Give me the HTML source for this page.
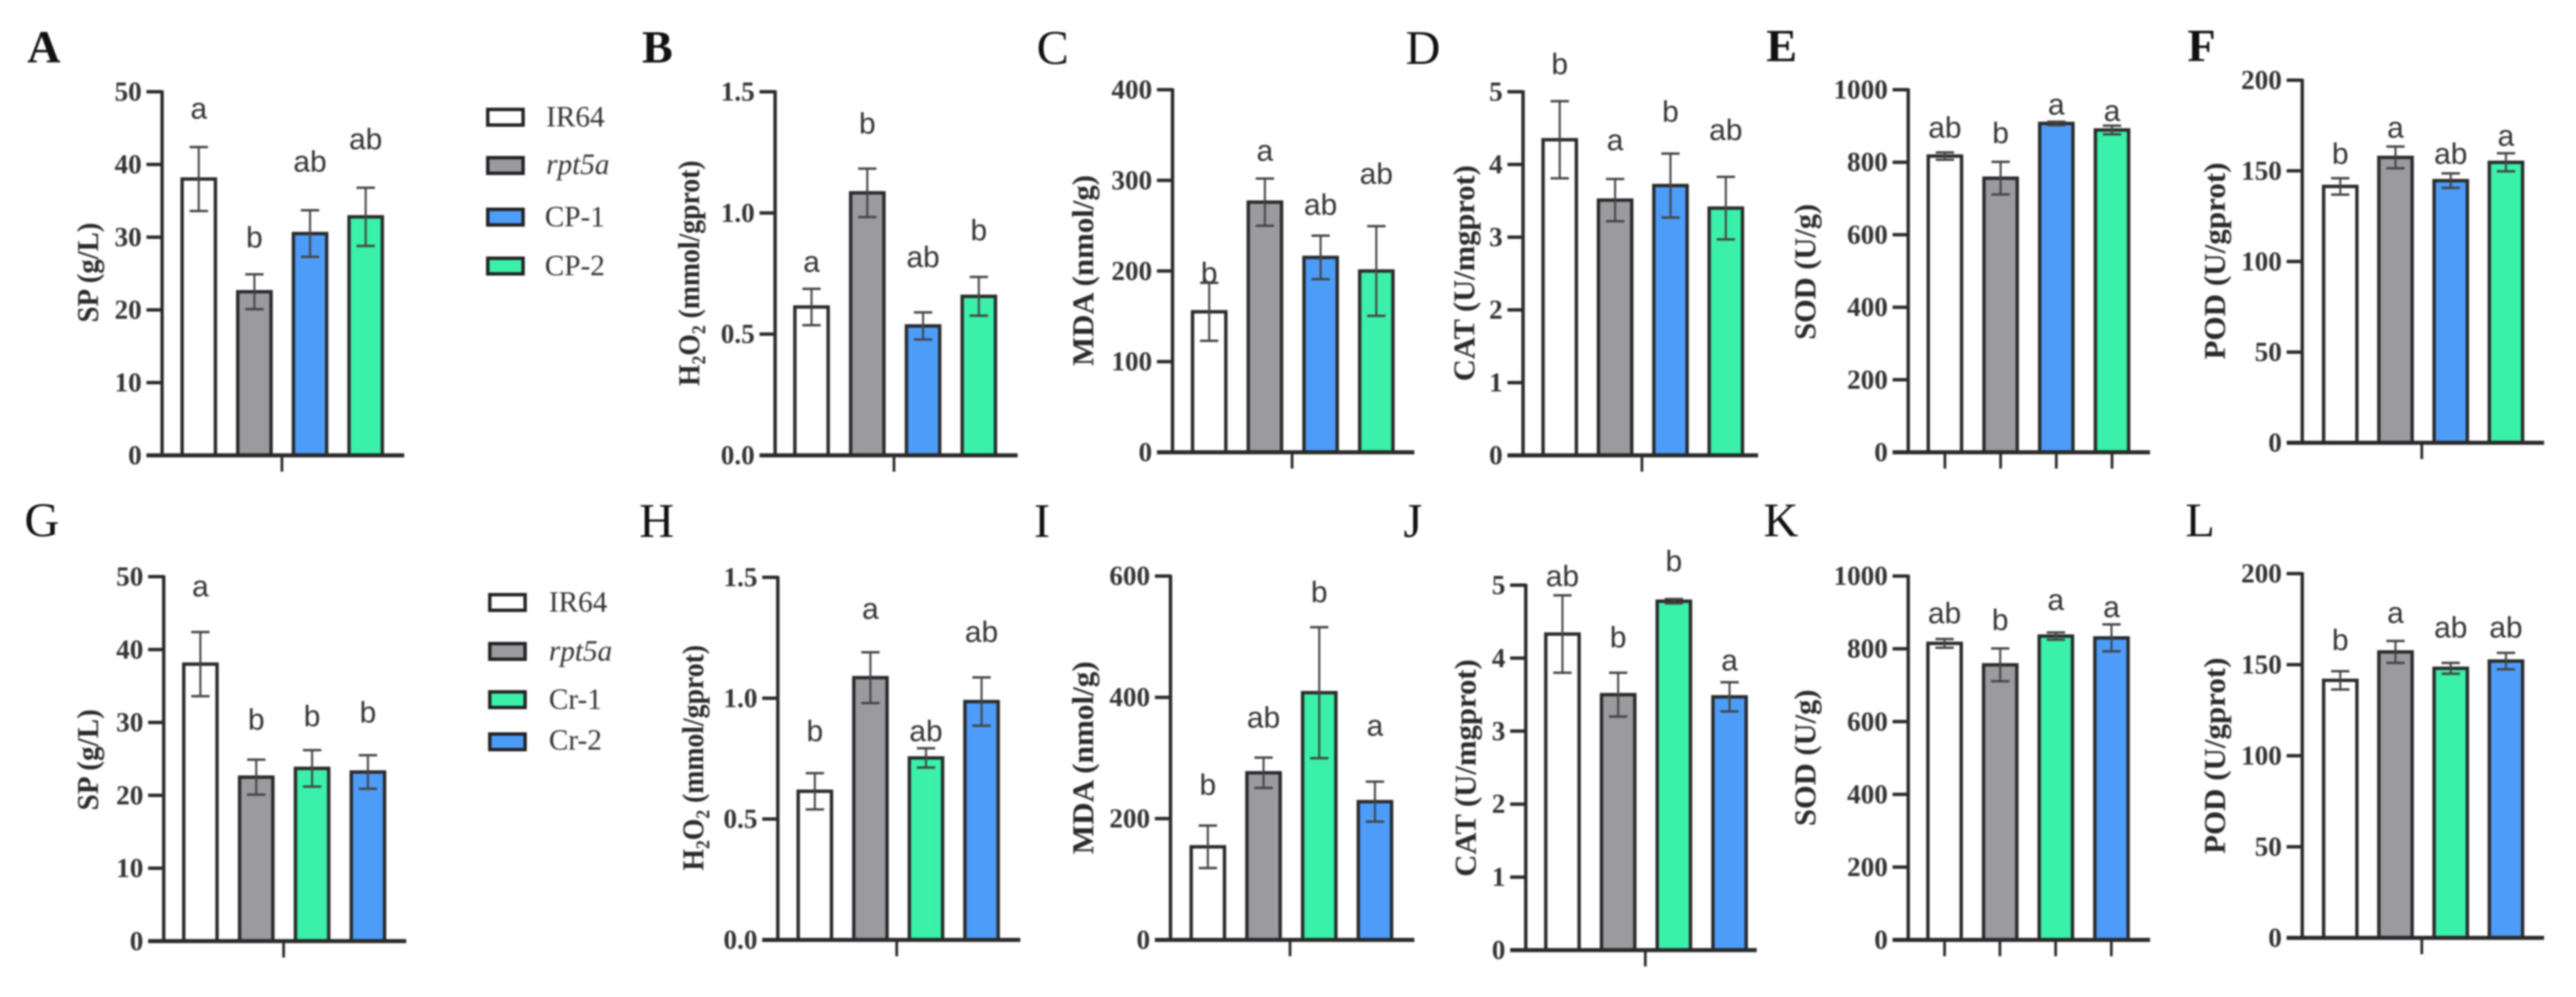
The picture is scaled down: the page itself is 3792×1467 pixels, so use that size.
<!DOCTYPE html>
<html lang="en">
<head>
<meta charset="utf-8">
<title>Physiological indices bar charts</title>
<style>
html,body{margin:0;padding:0;background:#fff;width:3792px;height:1467px;overflow:hidden}
svg{display:block;filter:blur(1.3px)}
.panel-letter{font-family:"Liberation Serif",serif;font-weight:normal;font-size:71px;fill:#111}
.panel-letter-heavy{font-family:"Liberation Serif",serif;font-weight:bold;font-size:68px;fill:#111}
.tick-label{font-family:"Liberation Serif",serif;font-weight:bold;font-size:40px;fill:#333;text-anchor:end}
.y-title{font-family:"Liberation Serif",serif;font-weight:bold;font-size:44px;fill:#2a2a2a;text-anchor:middle}
.sig-letter{font-family:"Liberation Sans",sans-serif;font-size:44px;fill:#333;text-anchor:middle}
.legend-text{font-family:"Liberation Serif",serif;font-size:43px;fill:#333}
</style>
</head>
<body>
<svg id="figure" xmlns="http://www.w3.org/2000/svg" width="3792" height="1467" viewBox="0 0 3792 1467">
  <g>
    <g><rect x="718" y="161" width="52" height="23" fill="#fff" stroke="#222" stroke-width="5"/><text class="legend-text" x="804" y="186">IR64</text></g>
    <g><rect x="718" y="232" width="52" height="23" fill="#9a9a9f" stroke="#222" stroke-width="5"/><text class="legend-text" x="804" y="256" font-style="italic">rpt5a</text></g>
    <g><rect x="718" y="308" width="52" height="23" fill="#4d9cf8" stroke="#222" stroke-width="5"/><text class="legend-text" x="802" y="333">CP-1</text></g>
    <g><rect x="718" y="380" width="52" height="23" fill="#3bf0a8" stroke="#222" stroke-width="5"/><text class="legend-text" x="802" y="405">CP-2</text></g>
  </g>
  <g>
    <g><rect x="721" y="875" width="52" height="23" fill="#fff" stroke="#222" stroke-width="5"/><text class="legend-text" x="808" y="900">IR64</text></g>
    <g><rect x="721" y="947" width="52" height="23" fill="#9a9a9f" stroke="#222" stroke-width="5"/><text class="legend-text" x="808" y="972" font-style="italic">rpt5a</text></g>
    <g><rect x="721" y="1018" width="52" height="23" fill="#3bf0a8" stroke="#222" stroke-width="5"/><text class="legend-text" x="808" y="1043">Cr-1</text></g>
    <g><rect x="721" y="1080" width="52" height="23" fill="#4d9cf8" stroke="#222" stroke-width="5"/><text class="legend-text" x="808" y="1103">Cr-2</text></g>
  </g>
</svg>
<script>
const categoriesTop = ["IR64", "rpt5a", "CP-1", "CP-2"];
const categoriesBottom = ["IR64", "rpt5a", "Cr-1", "Cr-2"];

const panelATicks = ["0", "10", "20", "30", "40", "50"];
const panelAValues = [38, 22.5, 30.5, 32.8];
const panelAErrors = [4.4, 2.4, 3.2, 4];
const panelALetters = ["a", "b", "ab", "ab"];
const panelALetterLevels = [46.3, 28.6, 39, 42.1];

const panelBTicks = ["0.0", "0.5", "1.0", "1.5"];
const panelBValues = [0.612, 1.083, 0.534, 0.656];
const panelBErrors = [0.075, 0.1, 0.056, 0.08];
const panelBLetters = ["a", "b", "ab", "b"];
const panelBLetterLevels = [0.757, 1.327, 0.776, 0.888];

const panelCTicks = ["0", "100", "200", "300", "400"];
const panelCValues = [155, 276, 215, 200];
const panelCErrors = [32, 26, 24, 49.5];
const panelCLetters = ["b", "a", "ab", "ab"];
const panelCLetterLevels = [186.7, 321.8, 262, 296];

const panelDTicks = ["0", "1", "2", "3", "4", "5"];
const panelDValues = [4.34, 3.51, 3.71, 3.4];
const panelDErrors = [0.53, 0.29, 0.44, 0.43];
const panelDLetters = ["b", "a", "b", "ab"];
const panelDLetterLevels = [5.245, 4.196, 4.589, 4.336];

const panelETicks = ["0", "200", "400", "600", "800", "1000"];
const panelEValues = [817, 756, 907, 889];
const panelEErrors = [10, 45, 5, 12];
const panelELetters = ["ab", "b", "a", "a"];
const panelELetterLevels = [868, 853, 932, 914];

const panelFTicks = ["0", "50", "100", "150", "200"];
const panelFValues = [141.4, 157.4, 144.6, 154.7];
const panelFErrors = [4.5, 6, 4, 5];
const panelFLetters = ["b", "a", "ab", "a"];
const panelFLetterLevels = [153.9, 168.4, 153.9, 163.9];

const panelGTicks = ["0", "10", "20", "30", "40", "50"];
const panelGValues = [38, 22.5, 23.7, 23.2];
const panelGErrors = [4.4, 2.4, 2.5, 2.3];
const panelGLetters = ["a", "b", "b", "b"];
const panelGLetterLevels = [47.3, 29, 29.5, 30];

const panelHTicks = ["0.0", "0.5", "1.0", "1.5"];
const panelHValues = [0.615, 1.085, 0.753, 0.986];
const panelHErrors = [0.075, 0.105, 0.04, 0.1];
const panelHLetters = ["b", "a", "ab", "ab"];
const panelHLetterLevels = [0.823, 1.328, 0.823, 1.233];

const panelITicks = ["0", "200", "400", "600"];
const panelIValues = [153.5, 275.6, 407.7, 228];
const panelIErrors = [35, 25, 108, 33];
const panelILetters = ["b", "ab", "b", "a"];
const panelILetterLevels = [239, 350, 557, 337];

const panelJTicks = ["0", "1", "2", "3", "4", "5"];
const panelJValues = [4.33, 3.5, 4.78, 3.47];
const panelJErrors = [0.53, 0.3, 0.03, 0.2];
const panelJLetters = ["ab", "b", "b", "a"];
const panelJLetterLevels = [4.987, 4.146, 5.192, 3.833];

const panelKTicks = ["0", "200", "400", "600", "800", "1000"];
const panelKValues = [815, 756, 835, 830];
const panelKErrors = [12, 45, 10, 37];
const panelKLetters = ["ab", "b", "a", "a"];
const panelKLetterLevels = [870, 852, 907, 887];

const panelLTicks = ["0", "50", "100", "150", "200"];
const panelLValues = [141.4, 157, 148, 152];
const panelLErrors = [5, 6, 3, 4.5];
const panelLLetters = ["b", "a", "ab", "ab"];
const panelLLetterLevels = [158, 173, 165, 165];

const colorWhite = "#ffffff", colorGray = "#9a9a9f", colorBlue = "#4d9cf8", colorGreen = "#3bf0a8";
const topColors = [colorWhite, colorGray, colorBlue, colorGreen];
const bottomColors = [colorWhite, colorGray, colorGreen, colorBlue];

const SVG_NS = "http://www.w3.org/2000/svg";
const figure = document.getElementById("figure");

function make(tag, attrs, parent, text) {
  const node = document.createElementNS(SVG_NS, tag);
  for (const key in attrs) node.setAttribute(key, attrs[key]);
  if (text !== undefined) node.textContent = text;
  parent.appendChild(node);
  return node;
}

function drawPanel(p) {
  const group = make("g", {}, figure);
  
  

  const maxValue = parseFloat(p.ticks[p.ticks.length - 1]);
  const yScale = function (v) { return p.base - (v / maxValue) * (p.base - p.top); };
  const xScale = function (i) { return p.firstBar + i * p.barStep; };
  const barWidth = 49;
  const ink = "#2a2a2a";

  const letterClass = p.heavy ? "panel-letter-heavy" : "panel-letter";
  const letterNode = make("text", { class: letterClass, x: p.letterX, y: p.letterY }, group, p.letter);
  
  

  p.values.forEach(function (v, i) {
    const bar = make("rect", {
      x: xScale(i) - barWidth / 2, y: yScale(v), width: barWidth, height: p.base - yScale(v),
      fill: p.colors[i], stroke: "#2a2a2a", "stroke-width": 5
    }, group);
    
    
  });

  const yAxis = make("line", { x1: p.axisX, x2: p.axisX, y1: p.top - 2, y2: p.base, stroke: ink, "stroke-width": 5 }, group);
  
  

  const xAxis = make("line", { x1: p.axisX - 23, x2: p.axisEnd, y1: p.base, y2: p.base, stroke: ink, "stroke-width": 6 }, group);
  
  

  p.ticks.forEach(function (label) {
    const y = yScale(parseFloat(label));
    const tick = make("line", { x1: p.axisX - 23, x2: p.axisX, y1: y, y2: y, stroke: ink, "stroke-width": 5 }, group);
    
    
    const tickText = make("text", { class: "tick-label", x: p.axisX - 30, y: y + 13 }, group, label);
    
    
  });

  p.xTicks.forEach(function (x) {
    const xTick = make("line", { x1: x, x2: x, y1: p.base, y2: p.base + 24, stroke: ink, "stroke-width": 4 }, group);
    
    
  });

  p.values.forEach(function (v, i) {
    const cx = xScale(i), hi = yScale(v + p.errors[i]), lo = yScale(v - p.errors[i]);
    const stem = make("line", { x1: cx, x2: cx, y1: hi, y2: lo, stroke: "#444", "stroke-width": 3 }, group);
    
    
    const capTop = make("line", { x1: cx - 13.5, x2: cx + 13.5, y1: hi, y2: hi, stroke: "#444", "stroke-width": 3.5 }, group);
    
    
    const capLow = make("line", { x1: cx - 13.5, x2: cx + 13.5, y1: lo, y2: lo, stroke: "#444", "stroke-width": 3.5 }, group);
    
    
    const sig = make("text", { class: "sig-letter", x: cx, y: yScale(p.letterLevels[i]) }, group, p.letters[i]);
    
    
  });

  const title = make("text", {
    class: "y-title", x: p.titleX + 15, y: p.titleY,
    transform: "rotate(-90 " + (p.titleX + 15) + " " + p.titleY + ")",
    textLength: p.titleLength, lengthAdjust: "spacingAndGlyphs"
  }, group);
  
  
  let shifted = false;
  p.title.split(/(\d)/).forEach(function (part, i) {
    if (!part) return;
    const isSub = i % 2 === 1;
    const attrs = {};
    if (isSub) { attrs["font-size"] = "28"; attrs.dy = "9"; shifted = true; }
    else if (shifted) { attrs.dy = "-9"; shifted = false; }
    make("tspan", attrs, title, part);
  });
}

const panels = [
  { letter: "A", heavy: true, letterX: 40, letterY: 92, axisX: 238.6, top: 135, base: 670, axisEnd: 595, firstBar: 292.6, barStep: 81.9, xTicks: [415], title: "SP (g/L)", titleX: 129, titleY: 401, titleLength: 147, ticks: panelATicks, values: panelAValues, errors: panelAErrors, letters: panelALetters, letterLevels: panelALetterLevels, colors: topColors, categories: categoriesTop },
  { letter: "B", heavy: true, letterX: 945, letterY: 92, axisX: 1141, top: 135, base: 670, axisEnd: 1498, firstBar: 1194.6, barStep: 82.1, xTicks: [1316], title: "H2O2 (mmol/gprot)", titleX: 1014, titleY: 402, titleLength: 332, ticks: panelBTicks, values: panelBValues, errors: panelBErrors, letters: panelBLetters, letterLevels: panelBLetterLevels, colors: topColors, categories: categoriesTop },
  { letter: "C", letterX: 1526, letterY: 94, axisX: 1726, top: 132, base: 665.5, axisEnd: 2082, firstBar: 1780, barStep: 82, xTicks: [1902], title: "MDA (nmol/g)", titleX: 1594, titleY: 398, titleLength: 281, ticks: panelCTicks, values: panelCValues, errors: panelCErrors, letters: panelCLetters, letterLevels: panelCLetterLevels, colors: topColors, categories: categoriesTop },
  { letter: "D", letterX: 2069, letterY: 94, axisX: 2242, top: 135, base: 670, axisEnd: 2588, firstBar: 2296, barStep: 81.5, xTicks: [2417], title: "CAT (U/mgprot)", titleX: 2155, titleY: 402, titleLength: 318, ticks: panelDTicks, values: panelDValues, errors: panelDErrors, letters: panelDLetters, letterLevels: panelDLetterLevels, colors: topColors, categories: categoriesTop },
  { letter: "E", heavy: true, letterX: 2600, letterY: 90, axisX: 2809, top: 132, base: 665.5, axisEnd: 3165, firstBar: 2863, barStep: 82, xTicks: [2863, 2945, 3027, 3109], title: "SOD (U/g)", titleX: 2657, titleY: 400, titleLength: 200, ticks: panelETicks, values: panelEValues, errors: panelEErrors, letters: panelELetters, letterLevels: panelELetterLevels, colors: topColors, categories: categoriesTop },
  { letter: "F", heavy: true, letterX: 3220, letterY: 90, axisX: 3389, top: 118, base: 651.5, axisEnd: 3745, firstBar: 3445, barStep: 81.3, xTicks: [3565], title: "POD (U/gprot)", titleX: 3260, titleY: 384, titleLength: 290, ticks: panelFTicks, values: panelFValues, errors: panelFErrors, letters: panelFLetters, letterLevels: panelFLetterLevels, colors: topColors, categories: categoriesTop },
  { letter: "G", letterX: 36, letterY: 789, axisX: 241, top: 848.5, base: 1384.8, axisEnd: 598, firstBar: 295, barStep: 82.2, xTicks: [417.5], title: "SP (g/L)", titleX: 129, titleY: 1118, titleLength: 149, ticks: panelGTicks, values: panelGValues, errors: panelGErrors, letters: panelGLetters, letterLevels: panelGLetterLevels, colors: bottomColors, categories: categoriesBottom },
  { letter: "H", letterX: 941, letterY: 790, axisX: 1145, top: 849.5, base: 1383, axisEnd: 1502, firstBar: 1199.5, barStep: 81.8, xTicks: [1320], title: "H2O2 (mmol/gprot)", titleX: 1020, titleY: 1115, titleLength: 332, ticks: panelHTicks, values: panelHValues, errors: panelHErrors, letters: panelHLetters, letterLevels: panelHLetterLevels, colors: bottomColors, categories: categoriesBottom },
  { letter: "I", letterX: 1522, letterY: 790, axisX: 1723, top: 847.6, base: 1383, axisEnd: 2082, firstBar: 1778, barStep: 82, xTicks: [1899], title: "MDA (nmol/g)", titleX: 1594, titleY: 1115, titleLength: 284, ticks: panelITicks, values: panelIValues, errors: panelIErrors, letters: panelILetters, letterLevels: panelILetterLevels, colors: bottomColors, categories: categoriesBottom },
  { letter: "J", letterX: 2066, letterY: 790, axisX: 2246, top: 861, base: 1398, axisEnd: 2586, firstBar: 2300, barStep: 82, xTicks: [2422], title: "CAT (U/mgprot)", titleX: 2157, titleY: 1130, titleLength: 320, ticks: panelJTicks, values: panelJValues, errors: panelJErrors, letters: panelJLetters, letterLevels: panelJLetterLevels, colors: bottomColors, categories: categoriesBottom },
  { letter: "K", letterX: 2596, letterY: 789, axisX: 2809, top: 847.6, base: 1383, axisEnd: 3165, firstBar: 2862.5, barStep: 81.9, xTicks: [2862.5, 2944, 3026, 3108], title: "SOD (U/g)", titleX: 2657, titleY: 1115, titleLength: 201, ticks: panelKTicks, values: panelKValues, errors: panelKErrors, letters: panelKLetters, letterLevels: panelKLetterLevels, colors: bottomColors, categories: categoriesBottom },
  { letter: "L", letterX: 3217, letterY: 789, axisX: 3389, top: 844, base: 1380, axisEnd: 3745, firstBar: 3445, barStep: 81.3, xTicks: [3565], title: "POD (U/gprot)", titleX: 3260, titleY: 1112, titleLength: 289, ticks: panelLTicks, values: panelLValues, errors: panelLErrors, letters: panelLLetters, letterLevels: panelLLetterLevels, colors: bottomColors, categories: categoriesBottom }
];

panels.forEach(drawPanel);
</script>
</body>
</html>
